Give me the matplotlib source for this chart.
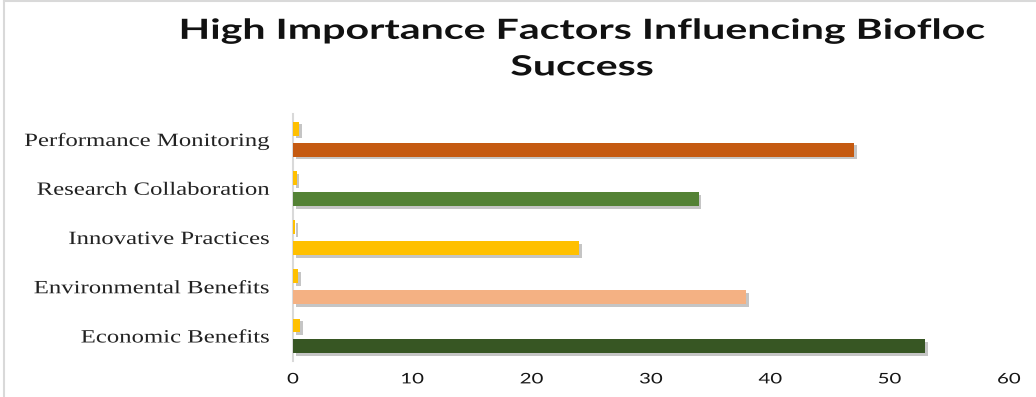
import matplotlib
matplotlib.use("Agg")
import matplotlib.pyplot as plt
import matplotlib.patheffects as pe
from matplotlib.lines import Line2D
from matplotlib.transforms import Affine2D
import numpy as np

categories = ["Economic Benefits", "Environmental Benefits", "Innovative Practices",
              "Research Collaboration", "Performance Monitoring"]
main_values = [53, 38, 24, 34, 47]
minor_values = [0.6, 0.4, 0.2, 0.3, 0.5]
main_colors = ["#375623", "#F4B183", "#FFC000", "#548235", "#C55A11"]
minor_color = "#FFC000"
x_ticks = [0, 10, 20, 30, 40, 50, 60]
title = "High Importance Factors Influencing Biofloc\nSuccess"


class HStretch(pe.AbstractPathEffect):
    """Widen glyph outlines horizontally around a chosen anchor."""

    def __init__(self, sx, anchor="left"):
        super().__init__()
        self.sx = sx
        self.anchor = anchor

    def draw_path(self, renderer, gc, tpath, affine, rgbFace=None):
        ext = tpath.get_extents()
        if self.anchor == "right":
            x0 = ext.x1
        elif self.anchor == "center":
            x0 = 0.5 * (ext.x0 + ext.x1)
        else:
            x0 = 0.0
        t = Affine2D().translate(-x0, 0).scale(self.sx, 1).translate(x0, 0) + affine
        renderer.draw_path(gc, tpath, t, rgbFace)


fig = plt.figure(figsize=(10.36, 3.97), dpi=100)
ax = fig.add_axes([0.2828, 0.0917, 0.6911, 0.620])

y = np.arange(len(categories))
h = 0.284
off = 0.213
shadow = [pe.SimplePatchShadow(offset=(2, -2), shadow_rgbFace="#808080", alpha=0.45),
          pe.Normal()]

ax.barh(y - off, main_values, height=h, color=main_colors, path_effects=shadow, zorder=3)
ax.barh(y + off, minor_values, height=h, color=minor_color, path_effects=shadow, zorder=3)

ax.set_xlim(0, 60)
ax.set_ylim(-0.5, len(categories) - 0.5)
ax.set_xticks(x_ticks)
ax.set_xticklabels([str(t) for t in x_ticks], family="Lato", fontsize=10.5, color="#151515")
ax.set_yticks(y)
ax.set_yticklabels(categories, family="Liberation Serif", fontsize=13.5, color="#222222")
ax.tick_params(axis="both", length=0)
ax.tick_params(axis="y", pad=16.5)
ax.tick_params(axis="x", pad=8.5)
for lab in ax.get_xticklabels():
    lab.set_path_effects([HStretch(1.4, "center")])
for lab in ax.get_yticklabels():
    lab.set_path_effects([HStretch(1.32, "right")])

for s in ["top", "right", "bottom"]:
    ax.spines[s].set_visible(False)
ax.spines["left"].set_color("#d9d9d9")
ax.spines["left"].set_linewidth(1.5)

ttl = fig.text(0.5618, 0.955, title, ha="center", va="top", family="Lato", fontweight="bold",
               fontsize=20, linespacing=1.5, color="#111111")
ttl.set_path_effects([HStretch(1.48, "center")])

# chart frame edges
fig.add_artist(Line2D([0.004, 0.004], [0, 0.997], transform=fig.transFigure,
                      color="#d9d9d9", lw=1.5))
fig.add_artist(Line2D([0.004, 1.0], [0.997, 0.997], transform=fig.transFigure,
                      color="#d9d9d9", lw=1.5))

fig.savefig("out.png", dpi=100)
